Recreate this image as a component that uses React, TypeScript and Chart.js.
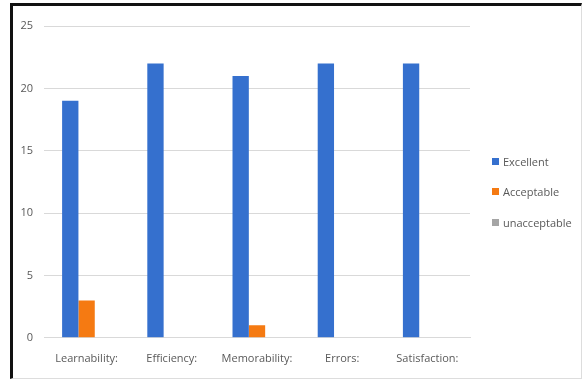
import React, { useEffect, useRef } from "react";
import { Chart, registerables } from "chart.js";

Chart.register(...registerables);

const categories = ["Learnability:", "Efficiency:", "Memorability:", "Errors:", "Satisfaction:"];
const excellent = [19, 22, 21, 22, 22];
const acceptable = [3, 0, 1, 0, 0];
const unacceptable = [0, 0, 0, 0, 0];
const yTicks = [0, 5, 10, 15, 20, 25];

const seriesNames = ["Excellent", "Acceptable", "unacceptable"];
const seriesColors = ["#3570CE", "#F57A12", "#A5A5A5"];

const FONT = "'Open Sans', 'Noto Sans', sans-serif";
const TEXT = "#595959";

export default function App() {
  const ref = useRef<HTMLCanvasElement | null>(null);

  useEffect(() => {
    document.body.style.margin = "0";
    const ctx = ref.current!;
    const values = [excellent, acceptable, unacceptable];
    const chart = new Chart(ctx, {
      type: "bar",
      data: {
        labels: categories,
        datasets: seriesNames.map((name, i) => ({
          label: name,
          data: values[i],
          backgroundColor: seriesColors[i],
        })),
      },
      options: {
        animation: false,
        responsive: false,
        devicePixelRatio: 1,
        layout: { padding: { left: 0, top: 26, bottom: 2, right: 115 } },
        datasets: { bar: { categoryPercentage: 0.575, barPercentage: 1 } },
        plugins: {
          tooltip: { enabled: false },
          legend: { display: false },
        },
        scales: {
          x: {
            grid: { display: false, drawTicks: false },
            border: { display: true, color: "#D9D9D9" },
            ticks: { color: TEXT, padding: 14, font: { family: FONT, size: 11 } },
          },
          y: {
            min: 0,
            max: 25,
            afterFit: (s: any) => { s.width = 44; },
            afterBuildTicks: (s: any) => { s.ticks = yTicks.map((v) => ({ value: v })); },
            grid: { color: "#D9D9D9", drawTicks: false },
            border: { display: false },
            ticks: { color: TEXT, padding: 11, font: { family: FONT, size: 11 } },
          },
        },
      },
    });
    return () => chart.destroy();
  }, []);

  return (
    <div style={{ position: "relative", width: 585, height: 381, background: "#fff" }}>
      <canvas ref={ref} width={585} height={381} style={{ position: "absolute", left: 0, top: 0 }} />
      {seriesNames.map((name, i) => (
        <div
          key={name}
          style={{
            position: "absolute",
            left: 492,
            top: 153 + i * 30.5,
            height: 16,
            display: "flex",
            alignItems: "center",
            fontFamily: FONT,
            fontSize: 11,
            color: TEXT,
            whiteSpace: "nowrap",
          }}
        >
          <span style={{ width: 7, height: 7, background: seriesColors[i], marginRight: 4, display: "inline-block" }} />
          {name}
        </div>
      ))}
      <div
        style={{
          position: "absolute",
          left: 10,
          top: 3,
          width: 568,
          height: 372,
          borderTop: "3px solid #111",
          borderLeft: "3px solid #111",
          borderRight: "1px solid #DDD",
          borderBottom: "1px solid #DDD",
          pointerEvents: "none",
        }}
      />
    </div>
  );
}
